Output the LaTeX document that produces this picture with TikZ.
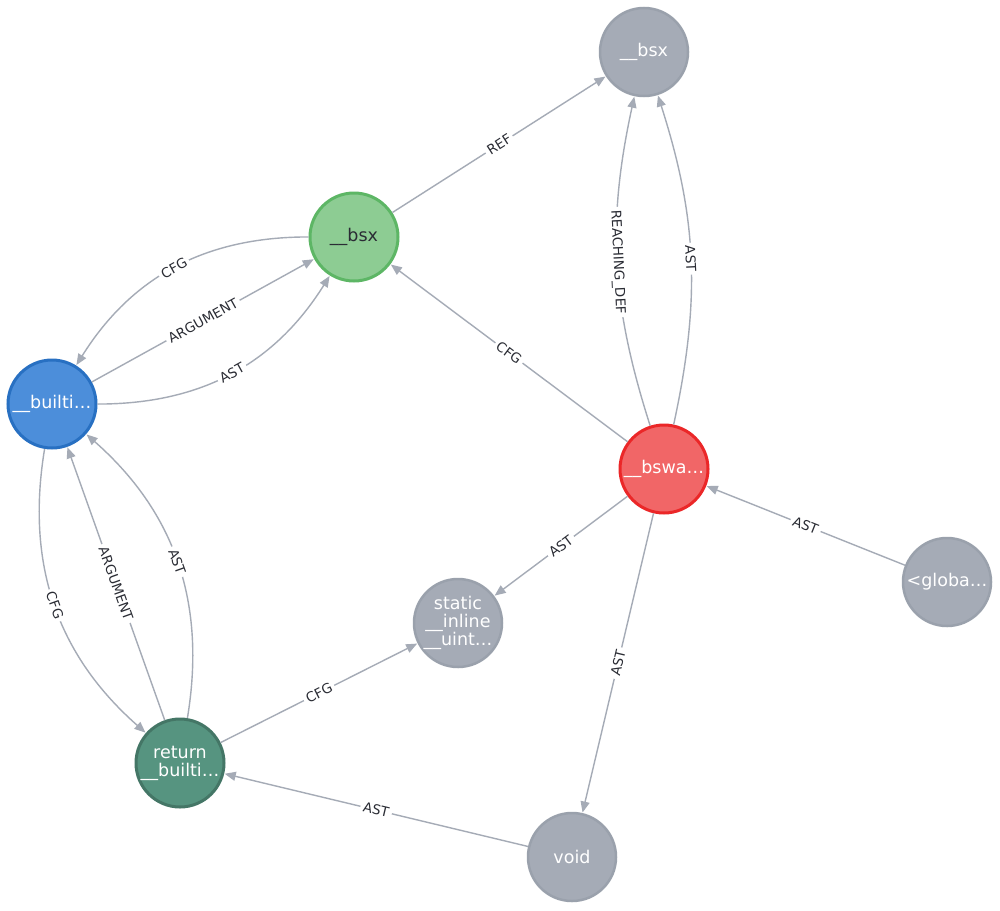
\documentclass[tikz,border=0pt]{standalone}
\usepackage{fontspec}
\setmainfont{DejaVu Sans}
\usetikzlibrary{arrows.meta}
\definecolor{gfill}{HTML}{A5ABB6}
\definecolor{gline}{HTML}{9AA1AC}
\definecolor{grfill}{HTML}{8DCC93}
\definecolor{grline}{HTML}{5DB665}
\definecolor{blfill}{HTML}{4C8EDA}
\definecolor{blline}{HTML}{2870C2}
\definecolor{rdfill}{HTML}{F16667}
\definecolor{rdline}{HTML}{EB2728}
\definecolor{dgfill}{HTML}{569480}
\definecolor{dgline}{HTML}{447666}
\definecolor{ecol}{HTML}{A5ABB6}
\definecolor{ltext}{HTML}{2A2C34}
\definecolor{dtext}{HTML}{2A2C34}
\begin{document}
\begin{tikzpicture}[x=1pt,y=1pt,
  nd/.style={circle, minimum size=88pt, inner sep=0pt, align=center,
    font=\fontsize{17.5}{18}\selectfont, text=white},
  graynode/.style={nd, fill=gfill, draw=gline, line width=2.5pt},
  greennode/.style={nd, fill=grfill, draw=grline, line width=3pt, text=dtext},
  bluenode/.style={nd, fill=blfill, draw=blline, line width=3pt},
  rednode/.style={nd, fill=rdfill, draw=rdline, line width=3pt},
  dgnode/.style={nd, fill=dgfill, draw=dgline, line width=3pt},
  rel/.style={draw=ecol, line width=1.4pt, -{Triangle[length=11pt,width=9pt]}, shorten >=0.5pt},
  lbl/.style={sloped, fill=white, inner sep=3pt, text=ltext,
    font=\fontsize{13.5}{14}\selectfont}
]
\useasboundingbox (0,0) rectangle (1000,-910);
\fill[white] (0,0) rectangle (1000,-910);

\node[graynode]  (T)  at (644,-52)  {\_\_bsx};
\node[greennode] (G)  at (354,-237) {\_\_bsx};
\node[bluenode]  (B)  at (52,-404)  {\_\_builti…};
\node[rednode]   (R)  at (664,-469) {\_\_bswa…};
\node[graynode]  (Gl) at (947,-582) {<globa…};
\node[graynode]  (S)  at (458,-623) {static\\\_\_inline\\\_\_uint…};
\node[dgnode]    (Rt) at (180,-763) {return\\\_\_builti…};
\node[graynode]  (V)  at (572,-857) {void};

\draw[rel] (G) -- node[lbl]{REF} (T);
\draw[rel] (R) to[bend left=15] node[lbl]{REACHING\_DEF} (T);
\draw[rel] (R) to[bend right=15] node[lbl]{AST} (T);
\draw[rel] (R) -- node[lbl]{CFG} (G);
\draw[rel] (G) to[bend right=29] node[lbl]{CFG} (B);
\draw[rel] (B) -- node[lbl]{ARGUMENT} (G);
\draw[rel] (B) to[bend right=29] node[lbl]{AST} (G);
\draw[rel] (B) to[bend right=29] node[lbl]{CFG} (Rt);
\draw[rel] (Rt) -- node[lbl]{ARGUMENT} (B);
\draw[rel] (Rt) to[bend right=29] node[lbl]{AST} (B);
\draw[rel] (Rt) -- node[lbl]{CFG} (S);
\draw[rel] (R) -- node[lbl]{AST} (S);
\draw[rel] (R) -- node[lbl]{AST} (V);
\draw[rel] (V) -- node[lbl]{AST} (Rt);
\draw[rel] (Gl) -- node[lbl]{AST} (R);
\end{tikzpicture}
\end{document}
